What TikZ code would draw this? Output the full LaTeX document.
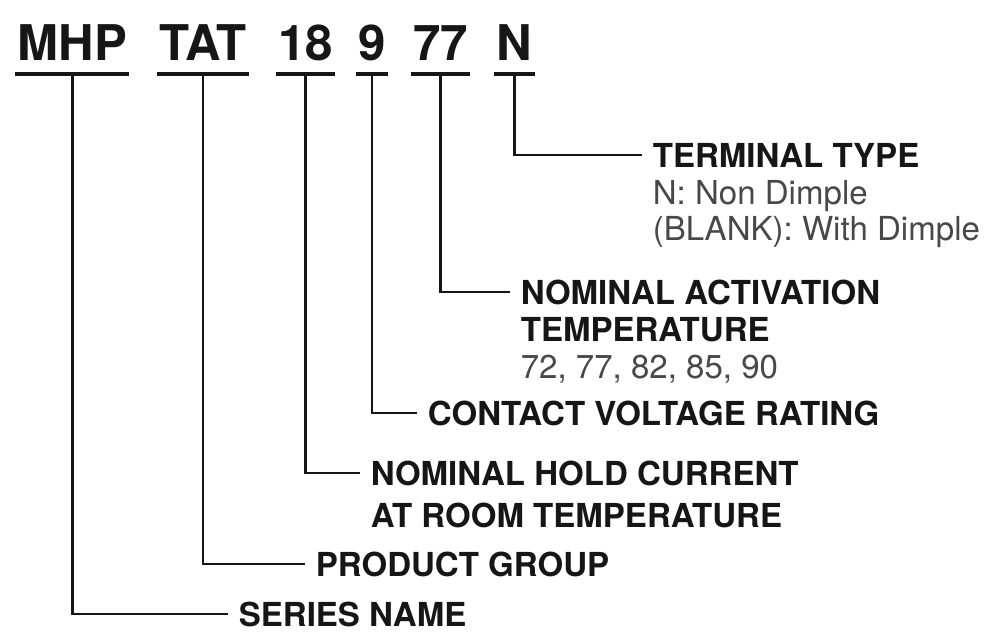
\documentclass[tikz,border=0pt]{standalone}
\usepackage{fontspec}
\setmainfont{TeX Gyre Heros}
\usetikzlibrary{positioning}
\definecolor{ink}{RGB}{22,22,22}
\definecolor{note}{RGB}{72,72,72}

\begin{document}
\begin{tikzpicture}[
    code/.style={font=\bfseries\fontsize{35}{35}\selectfont,text=ink,anchor=base,
                 inner xsep=1.5pt,inner ysep=9pt},
    head/.style={font=\bfseries\fontsize{23.5}{27}\selectfont,text=ink,anchor=west,
                 inner xsep=7.5pt,inner ysep=0pt},
    more/.style={font=\fontsize{23.5}{26}\selectfont,text=note,anchor=north west,
                 align=left,inner xsep=7.5pt,inner ysep=0pt},
    uline/.style={ink,line width=3pt},
    lead/.style={ink,line width=2pt}]
  \fill[white] (0,0) rectangle (24.6,15.8);
  \useasboundingbox (0,0) rectangle (24.6,15.8);
  % part number
  \node[code] (series) at (1.81,14.275) {MHP};
  \node[code] (group) at (5.075,14.275) {TAT};
  \node[code] (hold) at (7.64,14.275) {18};
  \node[code] (volt) at (9.3,14.275) {9};
  \node[code] (act) at (11.01,14.275) {77};
  \node[code] (term) at (12.86,14.275) {N};
  \foreach \n in {series,group,hold,volt,act,term}
    \draw[uline] (\n.south west) -- (\n.south east);
  % fields
  \node[head] (term-l) at (16.05,11.925) {TERMINAL TYPE};
  \node[more] (term-m) at ([yshift=-9pt]term-l.south west)
        {N: Non Dimple\\(BLANK): With Dimple};
  \node[head] (act-l) at (12.75,8.5) {NOMINAL ACTIVATION};
  \node[more] (act-m) at ([yshift=-9pt]act-l.south west)
        {\textcolor{ink}{\bfseries TEMPERATURE}\\72, 77, 82, 85, 90};
  \node[head] (volt-l) at (10.425,5.475) {CONTACT VOLTAGE RATING};
  \node[head] (hold-l) at (9.0,3.975) {NOMINAL HOLD CURRENT};
  \node[more,font=\bfseries\fontsize{23.5}{27}\selectfont,text=ink] (hold-m)
        at ([yshift=-12pt]hold-l.south west) {AT ROOM TEMPERATURE};
  \node[head] (group-l) at (7.625,1.7) {PRODUCT GROUP};
  \node[head] (series-l) at (5.7,0.45) {SERIES NAME};
  % leaders
  \draw[lead] (term.south) |- (term-l.west);
  \draw[lead] (act.south) |- (act-l.west);
  \draw[lead] (volt.south) |- (volt-l.west);
  \draw[lead] (hold.south) |- (hold-l.west);
  \draw[lead] (group.south) |- (group-l.west);
  \draw[lead] (series.south) |- (series-l.west);
\end{tikzpicture}
\end{document}
